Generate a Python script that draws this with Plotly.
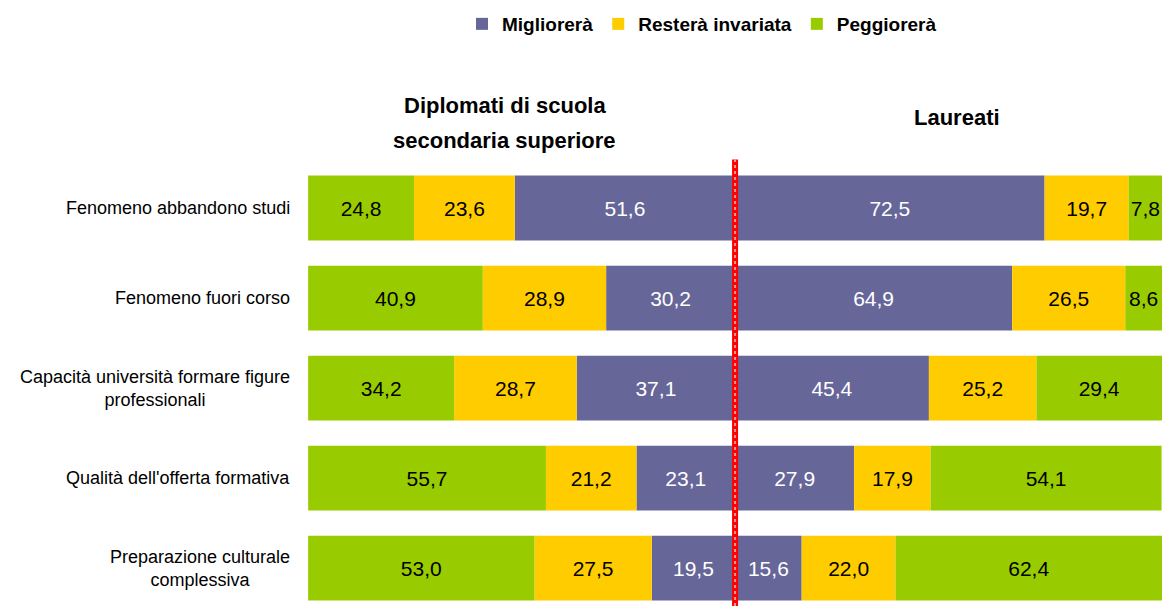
import plotly.graph_objects as go

categories = [
    "Fenomeno abbandono studi",
    "Fenomeno fuori corso",
    "Capacità università formare figure<br>professionali",
    "Qualità dell'offerta formativa",
    "Preparazione culturale<br>complessiva",
]
series_names = ["Migliorerà", "Resterà invariata", "Peggiorerà"]
colors = ["#666699", "#FFCC00", "#99CC00"]
text_colors = ["#FFFFFF", "#000000", "#000000"]

# Diplomati di scuola secondaria superiore (left side)
dipl_migliorera = [51.6, 30.2, 37.1, 23.1, 19.5]
dipl_invariata = [23.6, 28.9, 28.7, 21.2, 27.5]
dipl_peggiorera = [24.8, 40.9, 34.2, 55.7, 53.0]

# Laureati (right side)
laur_migliorera = [72.5, 64.9, 45.4, 27.9, 15.6]
laur_invariata = [19.7, 26.5, 25.2, 17.9, 22.0]
laur_peggiorera = [7.8, 8.6, 29.4, 54.1, 62.4]

group_titles = ["Diplomati di scuola", "secondaria superiore", "Laureati"]

FONT = "Liberation Sans"


def fmt(v):
    return f"{v:.1f}".replace(".", ",")


fig = go.Figure()

left = [dipl_migliorera, dipl_invariata, dipl_peggiorera]
right = [laur_migliorera, laur_invariata, laur_peggiorera]

for side, data, sign, show in (("Diplomati", left, -1, True), ("Laureati", right, 1, False)):
    for i, name in enumerate(series_names):
        fig.add_trace(go.Bar(
            y=categories, x=[sign * v for v in data[i]], orientation="h",
            name=name, legendgroup=name, showlegend=show,
            marker=dict(color=colors[i], line=dict(width=0)),
            text=[fmt(v) for v in data[i]], textposition="inside",
            insidetextanchor="middle", constraintext="none", textangle=0,
            textfont=dict(family=FONT, size=21, color=text_colors[i]),
            cliponaxis=False,
            hovertemplate="%{y}: " + name + " %{text}<extra>" + side + "</extra>",
        ))

# Category labels (centered multi-line text like the reference)
for c in categories:
    fig.add_annotation(
        x=0, xref="paper", y=c, yref="y", text=c, showarrow=False,
        xanchor="right", align="center", xshift=-14,
        font=dict(family=FONT, size=18, color="#000000"),
    )

# Group headers
header_font = dict(family=FONT, size=22, color="#000000")
fig.add_annotation(x=-54, xref="x", y=1 + (163 - 106) / 443, yref="paper",
                   text="<b>" + group_titles[0] + "</b>", showarrow=False,
                   yanchor="middle", font=header_font)
fig.add_annotation(x=-54, xref="x", y=1 + (163 - 140) / 443, yref="paper",
                   text="<b>" + group_titles[1] + "</b>", showarrow=False,
                   yanchor="middle", font=header_font)
fig.add_annotation(x=52, xref="x", y=1 + (163 - 118) / 443, yref="paper",
                   text="<b>" + group_titles[2] + "</b>", showarrow=False,
                   yanchor="middle", font=header_font)

# Central red divider
fig.add_shape(type="line", xref="x", x0=0, x1=0, yref="paper", y0=0, y1=1.008,
              line=dict(color="#FF0000", width=6))
fig.add_shape(type="line", xref="x", x0=0, x1=0, yref="paper", y0=0, y1=1.008,
              line=dict(color="#FF9999", width=2, dash="dot"))

fig.update_layout(
    width=1162, height=606,
    barmode="relative", bargap=0.28,
    plot_bgcolor="white", paper_bgcolor="white",
    margin=dict(l=306, r=0, t=163, b=0, autoexpand=False),
    font=dict(family=FONT, color="#000000"),
    xaxis=dict(range=[-100.5, 100], visible=False, fixedrange=True),
    yaxis=dict(type="category", categoryarray=categories, categoryorder="array",
               range=[4.42, -0.5], showticklabels=False, showgrid=False,
               zeroline=False, showline=False, ticks="", fixedrange=True),
    legend=dict(orientation="h", xref="container", yref="container",
                x=702 / 1162, xanchor="center", y=1 - 24 / 606, yanchor="middle",
                traceorder="normal", itemwidth=30,
                font=dict(family=FONT, size=19, color="#000000", weight="bold")),
    showlegend=True,
)

fig.write_html(
    "out.html",
    config={"displayModeBar": False},
    post_script="document.body.style.margin='0';document.body.style.overflow='hidden';",
)
